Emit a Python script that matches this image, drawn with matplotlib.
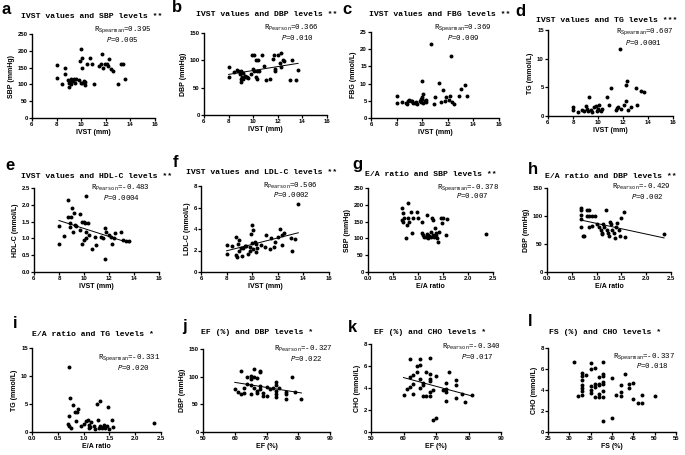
import numpy as np
import matplotlib
matplotlib.use("Agg")
import matplotlib.pyplot as plt

plt.rcParams["mathtext.fontset"]="custom"
plt.rcParams["mathtext.rm"]="Liberation Mono"
plt.rcParams["mathtext.it"]="Liberation Mono:italic"

# ---- data ----
a_x=[8.0,8.0,8.4,8.7,8.7,8.9,9.0,9.0,9.1,9.2,9.3,9.4,9.5,9.6,9.2,9.8,9.9,10.0,10.05,10.1,10.0,10.2,10.3,10.1,10.3,10.45,10.75,10.9,11.05,11.45,11.6,11.7,11.75,11.9,12.1,12.2,12.3,12.4,12.55,13.0,13.2,13.4,13.6]
a_y=[158,120,100,150,131,113,105,93,110,100,110,115,105,115,115,112,170,205,180,150,105,110,108,103,98,160,178,160,100,155,160,190,148,160,160,155,175,145,140,100,160,160,116]

b_x=[8.0,8.0,8.4,8.7,8.8,8.9,9.0,9.0,9.1,9.2,9.3,9.4,9.5,9.6,9.8,9.0,9.2,9.9,10.1,10.0,10.2,10.4,10.1,10.3,10.2,10.3,10.5,10.7,10.9,11.0,11.4,11.65,11.7,11.75,11.8,12.05,12.2,12.3,12.4,12.5,12.3,13.15,13.0,13.45,13.65]
b_y=[87,70,78,82,80,75,65,60,70,65,72,70,70,68,75,80,77,110,110,85,100,100,80,80,70,65,80,110,90,64,65,102,110,80,85,110,95,114,100,98,87,100,64,64,83]

c_x=[8.0,8.0,8.4,8.7,8.8,8.9,9.0,9.1,9.2,9.3,9.4,9.5,9.6,9.8,9.9,9.9,10.0,9.96,10.1,10.2,10.3,10.1,10.3,10.0,10.66,10.9,11.0,11.35,11.5,11.65,11.75,11.85,12.1,12.2,12.25,12.3,12.5,12.9,13.05,13.35,13.5]
c_y=[6.5,4.5,4.6,4.5,4.1,5.0,5.2,4.8,5.0,4.3,4.5,4.6,4.2,5.0,5.5,4.6,6.0,10.9,7.1,5.0,5.3,4.4,4.6,5.5,21.6,4.0,6.2,10.3,4.6,8.2,5.0,6.0,5.2,6.3,17.9,4.7,4.0,6.5,8.5,9.7,6.5]

d_x=[8.0,8.0,8.4,8.7,8.9,9.0,9.1,9.2,9.4,9.5,9.7,9.8,9.9,10.0,9.3,10.05,10.0,10.2,10.3,10.75,11.0,10.9,11.4,11.5,11.6,11.8,11.73,12.1,12.2,12.25,12.3,12.4,12.6,13.0,13.15,13.4,13.65]
d_y=[1.5,1.0,0.7,1.0,0.8,1.7,1.2,0.9,1.0,0.7,1.5,1.8,0.9,1.2,3.4,2.0,1.0,0.8,1.2,3.4,4.9,2.0,1.0,1.4,1.5,1.2,11.6,2.0,2.7,5.4,6.1,1.0,1.6,4.9,2.0,4.4,4.1]

e_x=[8.0,8.0,8.4,8.73,8.7,8.9,8.9,9.07,9.0,9.1,9.2,9.3,9.4,9.66,9.7,9.8,9.85,10.0,10.0,10.1,10.14,10.2,10.3,10.2,10.4,10.65,10.9,11.0,11.4,11.5,11.67,11.67,11.8,12.0,12.2,12.26,12.4,12.5,13.0,13.1,13.4,13.6]
e_y=[0.83,1.36,1.08,2.15,1.65,1.45,1.35,1.89,1.65,1.2,1.75,1.4,1.38,1.73,1.25,1.5,0.83,0.95,1.5,1.45,2.25,1.2,1.45,1.0,1.1,0.69,1.05,0.8,1.05,1.0,1.31,0.39,1.2,1.1,1.05,0.84,1.0,1.15,1.19,0.95,0.93,0.93]

f_x=[8.0,8.0,8.4,8.7,8.7,8.8,8.9,9.0,9.0,9.1,9.2,9.3,9.4,9.5,9.7,9.8,9.8,9.9,10.0,10.1,10.0,10.2,10.3,10.4,10.3,10.1,10.7,11.05,11.0,11.4,11.5,11.7,11.8,12.0,12.17,12.3,12.3,12.5,13.0,13.08,13.37,13.6]
f_y=[2.52,1.69,2.4,3.3,1.6,1.4,2.6,3.0,2.0,2.2,1.5,2.2,2.4,2.4,1.7,2.0,2.3,3.5,4.4,3.9,2.7,2.8,2.6,2.2,1.9,2.1,2.5,3.4,2.3,2.1,3.2,2.3,2.8,3.3,4.0,3.4,2.5,3.6,3.2,1.97,3.08,6.37]

g_x=[0.68,0.7,0.68,0.7,0.72,0.75,0.77,0.8,0.8,0.82,0.85,0.88,0.9,0.97,1.0,1.07,1.08,1.1,1.17,1.15,1.2,1.2,1.25,1.25,1.28,1.3,1.3,1.33,1.35,1.38,1.4,1.42,1.45,1.48,1.5,1.55,1.57,2.35,1.12,1.18,1.22,1.32,1.36]
g_y=[190,175,155,150,160,100,140,205,160,150,180,115,160,180,160,115,150,110,170,105,110,100,105,120,160,155,110,130,110,100,90,120,160,145,160,110,158,113,105,112,108,105,115]

h_x=[0.68,0.68,0.68,0.68,0.68,0.72,0.75,0.8,0.85,0.8,0.85,0.9,0.96,0.85,0.9,1.0,1.05,1.08,1.1,1.1,1.12,1.15,1.18,1.2,1.22,1.25,1.28,1.3,1.32,1.35,1.38,1.4,1.42,1.45,1.48,1.5,1.56,1.57,2.36]
h_y=[115,110,102,95,80,65,64,110,110,100,100,100,100,80,82,85,80,75,70,68,85,80,110,75,70,65,90,85,75,70,60,80,87,75,65,96,108,62,68]

i_x=[0.72,0.73,0.71,0.7,0.72,0.75,0.8,0.84,0.85,0.88,0.9,0.95,1.0,1.05,1.08,1.1,1.1,1.12,1.15,1.2,1.22,1.25,1.27,1.32,1.3,1.32,1.35,1.38,1.4,1.42,1.45,1.47,1.5,1.55,1.57,2.36]
i_y=[11.6,6.1,2.9,1.5,1.0,0.8,4.9,3.5,2.0,3.5,4.1,1.0,1.5,2.0,2.2,1.2,0.7,0.9,1.8,1.0,0.6,5.0,2.2,5.5,0.8,1.0,0.7,0.9,1.2,0.7,1.0,4.4,0.6,2.2,0.9,1.6]

j_x=[60,61,62,62,63,63,64,64,65,65,65,65,66,66,66,67,67,67,68,68,68,68,69,69,70,70,71,72,73,73,73,73,73,74,76,76,76,78,79,81]
j_y=[78,72,68,110,80,70,87,100,95,102,68,85,114,100,80,97,75,70,110,108,83,78,65,70,82,65,78,80,90,85,75,68,63,80,72,68,60,100,72,60]

k_x=[60,61,62,62,62,63,63,63,64,64,65,65,65,65,66,66,66,67,67,68,68,68,68,68,68,69,69,70,70,72,73,73,73,73,74,76,76,76,78,79,81]
k_y=[3.4,3.9,4.1,6.6,5.0,5.2,4.4,3.5,5.5,6.0,6.6,6.1,4.8,4.0,4.5,4.3,3.3,5.5,3.3,6.7,5.3,4.8,4.6,3.6,3.3,3.8,1.05,1.3,5.1,3.8,3.9,3.6,2.8,4.5,5.5,4.7,4.3,3.1,3.5,2.75,3.4]

l_x=[31,32,33,33,33,33,33,33,33,34,35,35,35,35,35,36,36,36,36,37,37,37,37,37,38,38,38,38,38,38,38,38,40,40,41,42,42,42,43,44,44,45,45,46,47,47,50]
l_y=[6.7,3.4,5.6,5.3,5.0,4.5,4.2,3.9,3.5,5.4,6.6,6.0,4.4,4.0,3.7,6.1,4.6,4.3,3.3,5.2,4.6,4.5,3.6,3.3,6.7,5.5,5.3,4.8,4.6,3.9,3.3,1.05,5.1,1.3,3.5,4.5,3.8,3.4,5.5,4.6,4.2,4.7,3.1,2.8,3.5,2.75,3.45]

titles=["IVST values and SBP levels **","IVST values and DBP levels **","IVST values and FBG levels **","IVST values and TG levels ***",
        "IVST values and HDL-C levels **","IVST values and LDL-C levels **","E/A ratio and SBP levels **","E/A ratio and DBP levels **",
        "E/A ratio and TG levels *","EF (%) and DBP levels *","EF (%) and CHO levels *","FS (%) and CHO levels *"]
xlabels=["IVST (mm)"]*6+["E/A ratio"]*3+["EF (%)","EF (%)","FS (%)"]
ylabels=["SBP (mmHg)","DBP (mmHg)","FBG (mmol/L)","TG (mmol/L)","HDL-C (mmol/L)","LDL-C (mmol/L)",
         "SBP (mmHg)","DBP (mmHg)","TG (mmol/L)","DBP (mmHg)","CHO (mmol/L)","CHO (mmol/L)"]
methods=["Spearman","Pearson","Spearman","Spearman","Pearson","Pearson","Spearman","Pearson","Spearman","Pearson","Pearson","Spearman"]
r_values=["0.395","0.366","0.369","0.607","-0.483","0.506","-0.378","-0.429","-0.331","-0.327","-0.340","-0.337"]
p_values=["0.005","0.010","0.009","0.0001","0.0004","0.0002","0.007","0.002","0.020","0.022","0.017","0.018"]
letters=list("abcdefghijkl")

xs=[a_x,b_x,c_x,d_x,e_x,f_x,g_x,h_x,i_x,j_x,k_x,l_x]
ys=[a_y,b_y,c_y,d_y,e_y,f_y,g_y,h_y,i_y,j_y,k_y,l_y]

# ---- layout (pixels) ----
W,H=685,455
ivst_ticks=np.arange(6,17,2)
ea_ticks=np.arange(0,2.51,0.5)
xticks=[ivst_ticks]*6+[ea_ticks]*3+[np.arange(50,91,10)]*2+[np.arange(25,56,5)]
yticks=[np.arange(0,251,50),np.arange(0,151,50),np.arange(0,26,5),np.arange(0,16,5),
        np.arange(0,2.51,0.5),np.arange(0,9,2),np.arange(0,251,50),np.arange(0,151,50),
        np.arange(0,16,5),np.arange(0,151,50),np.arange(0,9,2),np.arange(0,9,2)]
xfmt=["{:.0f}"]*6+["{:.1f}"]*3+["{:.0f}"]*3
yfmt=["{:.0f}"]*4+["{:.1f}"]+["{:.0f}"]*7

boxes=[(32,34,155,118),(204,33,327,115),(371,32,499,118),(548,30,673,116),
       (34,188,159,272),(201,186,329,272),(368,188,493,272),(547,188,671,272),
       (32,348,161,432),(203,349,330,432),(371,344,501,432),(548,348,676,432)]
title_pos=[(92,16),(267,15),(440,15),(607,20),(97,177),(262,173),(431,175),(611,177),
           (93,335),(257,333),(430,332),(605,333)]
letter_pos=[(2,9),(172,8),(342,10),(515,11),(5,165),(173,162),(352,164),(528,169),
            (13,324),(182,327),(348,327),(528,321)]
r_pos=[(0.975,1.05),(0.93,1.06),(0.94,1.05),(1.0,0.98),(0.93,1.0),(0.91,1.0),
       (1.05,1.01),(1.0,1.01),(0.99,0.89),(1.02,1.0),(1.0,0.97),(0.99,0.90)]
p_pos=[(0.87,0.94),(0.89,0.95),(0.85,0.94),(0.91,0.86),(0.85,0.89),(0.85,0.9),
       (0.96,0.91),(0.94,0.9),(0.91,0.77),(0.94,0.89),(0.94,0.86),(0.94,0.79)]

fig=plt.figure(figsize=(W/100,H/100),dpi=100,facecolor="white")

sans="Liberation Sans"
mono="Liberation Mono"

for n in range(12):
    l,t,r,b=boxes[n]
    ax=fig.add_axes([l/W,1-b/H,(r-l)/W,(b-t)/H])
    x=np.array(xs[n],dtype=float)
    y=np.array(ys[n],dtype=float)
    ax.scatter(x,y,s=8,color="black",linewidths=0,clip_on=False,zorder=3)
    if methods[n]=="Pearson":
        k,c0=np.polyfit(x,y,1)
        xx=np.array([x.min(),x.max()])
        ax.plot(xx,k*xx+c0,color="black",linewidth=0.7)
    ax.set_xlim(xticks[n][0],xticks[n][-1])
    ax.set_ylim(yticks[n][0],yticks[n][-1])
    ax.set_xticks(xticks[n])
    ax.set_yticks(yticks[n])
    ax.set_xticklabels([xfmt[n].format(v) for v in xticks[n]],fontsize=4.3,fontweight="bold",family=sans)
    ax.set_yticklabels([yfmt[n].format(v) for v in yticks[n]],fontsize=4.3,fontweight="bold",family=sans)
    ax.tick_params(length=2,width=0.9,pad=1)
    for s in ["top","right"]:
        ax.spines[s].set_visible(False)
    for s in ["left","bottom"]:
        ax.spines[s].set_linewidth(1.0)
    ax.set_xlabel(xlabels[n],fontsize=5,fontweight="bold",family=sans,labelpad=1.5)
    ax.set_ylabel(ylabels[n],fontsize=5,fontweight="bold",family=sans,labelpad=2)

    rx,ry=r_pos[n]
    ax.text(rx,ry,"R$_{\\mathrm{"+methods[n]+"}}$="+r_values[n],transform=ax.transAxes,
            ha="right",va="center",fontsize=5.3,family=mono)
    px_,py_=p_pos[n]
    ax.text(px_,py_,"$P$="+p_values[n],transform=ax.transAxes,
            ha="right",va="center",fontsize=5.3,family=mono)

    tx,ty=title_pos[n]
    fig.text(tx/W,1-ty/H,titles[n],ha="center",va="center",fontsize=5.9,
             fontweight="bold",family=mono)
    lx,ly=letter_pos[n]
    fig.text(lx/W,1-ly/H,letters[n],ha="left",va="center",fontsize=12,
             fontweight="bold",family=sans)

fig.savefig("out.png",dpi=100,facecolor="white")
